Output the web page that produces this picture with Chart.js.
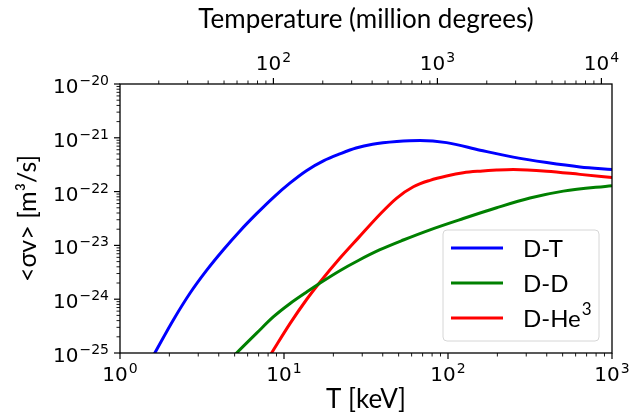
<!DOCTYPE html>
<html>
<head>
<meta charset="utf-8">
<script src="https://cdn.jsdelivr.net/npm/chart.js@4.4.0/dist/chart.umd.min.js"></script>
<style>
  html, body { margin: 0; padding: 0; background: #fff; }
  canvas { display: block; }
</style>
</head>
<body>
<canvas id="chart" width="630" height="416"></canvas>
<script>
// fusion reactivities: T in keV, <sigma v> in m^3/s
const dtTemp = [1.4, 1.63, 2.11, 2.67, 3.38, 4.27, 5.39, 6.81, 8.6, 10.9, 13.7, 17.4, 21.9, 27.5, 34.7,
                48.7, 67.5, 98, 157, 250, 400, 638, 1000];
const dtRate = [4.37e-26, 1.0e-25, 4.07e-25, 1.29e-24, 3.47e-24, 8.32e-24, 1.86e-23, 3.89e-23, 7.76e-23,
                1.45e-22, 2.45e-22, 3.72e-22, 5.01e-22, 6.46e-22, 7.59e-22, 8.51e-22, 8.91e-22, 8.13e-22,
                5.89e-22, 4.37e-22, 3.47e-22, 2.88e-22, 2.57e-22];

const ddTemp = [4.6, 5.14, 6.81, 8.6, 10.9, 13.7, 16.6, 21.9, 28.4, 38.5, 53.4, 77.7, 124, 198, 316, 505, 1000];
const ddRate = [7.08e-26, 1.0e-25, 2.34e-25, 4.68e-25, 8.32e-25, 1.35e-24, 2.0e-24, 3.39e-24, 5.25e-24,
                8.32e-24, 1.26e-23, 1.95e-23, 3.16e-23, 5.01e-23, 7.59e-23, 1.02e-22, 1.29e-22];

const dhe3Temp = [7.9, 8.4, 10.9, 13.7, 16.6, 21.9, 28.4, 38.5, 48.7, 61.5, 77.7, 98, 124, 157, 198, 250,
                  400, 638, 1000];
const dhe3Rate = [7.41e-26, 1.0e-25, 3.55e-25, 9.77e-25, 2.09e-24, 5.75e-24, 1.38e-23, 3.80e-23, 7.59e-23,
                  1.23e-22, 1.62e-22, 1.95e-22, 2.24e-22, 2.40e-22, 2.51e-22, 2.57e-22, 2.40e-22, 2.09e-22,
                  1.82e-22];

const seriesNames = ['D-T', 'D-D', 'D-He\u00b3'];

// decade labels (exponents of 10)
const xTickExps = [0, 1, 2, 3];
const topTickExps = [2, 3, 4];
const yTickExps = [-25, -24, -23, -22, -21, -20];

const keVToMK = 11.6045;   // 1 keV in million degrees

const tickFont = '20px "DejaVu Sans"';
const supFont = '14px "DejaVu Sans"';
const textFamily = 'Lato, "DejaVu Sans", sans-serif';

function logTicks(min, max) {
  const out = [];
  for (let e = Math.floor(Math.log10(min)); e <= Math.ceil(Math.log10(max)); e++) {
    for (let m = 1; m < 10; m++) {
      const v = m * Math.pow(10, e);
      if (v >= min * 0.9999 && v <= max * 1.0001) out.push({ value: v });
    }
  }
  return out;
}

function isDecade(v) {
  const l = Math.log10(v);
  return Math.abs(l - Math.round(l)) < 1e-6;
}

function drawPower(ctx, exp, x, y, align) {
  const e = exp < 0 ? '\u2212' + (-exp) : String(exp);
  ctx.font = tickFont;
  const wb = ctx.measureText('10').width;
  ctx.font = supFont;
  const we = ctx.measureText(e).width;
  const w = wb + we + 1;
  const x0 = align === 'right' ? x - w : x - w / 2;
  ctx.textAlign = 'left';
  ctx.textBaseline = 'alphabetic';
  ctx.font = tickFont;
  ctx.fillText('10', x0, y);
  ctx.font = supFont;
  ctx.fillText(e, x0 + wb + 1, y - 8);
}

// legend text, with a trailing "³" drawn as a real superscript
function drawLabel(ctx, text, x, y) {
  const sup = text.endsWith('\u00b3');
  const base = sup ? text.slice(0, -1) : text;
  ctx.font = '24px ' + textFamily;
  ctx.fillText(base, x, y);
  if (sup) {
    const w = ctx.measureText(base).width;
    ctx.font = '17px ' + textFamily;
    ctx.fillText('3', x + w + 1, y - 9);
  }
}

// matplotlib-ish frame, ticks, decade labels and legend
const mplLook = {
  id: 'mplLook',
  afterDraw(chart) {
    const ctx = chart.ctx;
    const a = chart.chartArea;
    ctx.save();
    ctx.strokeStyle = '#000';
    ctx.fillStyle = '#000';

    // ticks
    const sx = chart.scales.x, st = chart.scales.x2, sy = chart.scales.y;
    sx.ticks.forEach(t => {
      const p = sx.getPixelForValue(t.value), big = isDecade(t.value);
      ctx.lineWidth = big ? 1.2 : 0.9;
      ctx.beginPath(); ctx.moveTo(p, a.bottom); ctx.lineTo(p, a.bottom + (big ? 6 : 3.5)); ctx.stroke();
    });
    st.ticks.forEach(t => {
      const p = st.getPixelForValue(t.value), big = isDecade(t.value);
      ctx.lineWidth = big ? 1.2 : 0.9;
      ctx.beginPath(); ctx.moveTo(p, a.top); ctx.lineTo(p, a.top - (big ? 6 : 3.5)); ctx.stroke();
    });
    sy.ticks.forEach(t => {
      const p = sy.getPixelForValue(t.value), big = isDecade(t.value);
      ctx.lineWidth = big ? 1.2 : 0.9;
      ctx.beginPath(); ctx.moveTo(a.left, p); ctx.lineTo(a.left - (big ? 6 : 3.5), p); ctx.stroke();
    });

    // labels
    xTickExps.forEach(e => drawPower(ctx, e, sx.getPixelForValue(Math.pow(10, e)), a.bottom + 28, 'center'));
    topTickExps.forEach(e => drawPower(ctx, e, st.getPixelForValue(Math.pow(10, e)), a.top - 14, 'center'));
    yTickExps.forEach(e => drawPower(ctx, e, a.left - 11, sy.getPixelForValue(Math.pow(10, e)) + 9, 'right'));

    // frame
    ctx.lineWidth = 1.3;
    ctx.strokeRect(a.left, a.top, a.right - a.left, a.bottom - a.top);

    // legend, lower right
    const bx = 443, by = 230, bw = 156, bh = 111;
    ctx.beginPath();
    ctx.roundRect(bx, by, bw, bh, 4);
    ctx.fillStyle = 'rgba(255,255,255,0.8)';
    ctx.fill();
    ctx.strokeStyle = '#d6d6d6';
    ctx.lineWidth = 1;
    ctx.stroke();
    ctx.textAlign = 'left';
    ctx.textBaseline = 'middle';
    chart.data.datasets.forEach((ds, i) => {
      const ly = by + 18 + i * 35;
      ctx.strokeStyle = ds.borderColor;
      ctx.lineWidth = 3;
      ctx.beginPath(); ctx.moveTo(bx + 8, ly); ctx.lineTo(bx + 60, ly); ctx.stroke();
      ctx.fillStyle = '#000';
      drawLabel(ctx, ds.label, bx + 80, ly + 1);
    });
    ctx.restore();
  }
};

function pts(xs, ys) {
  return xs.map((x, i) => ({ x: x, y: ys[i] }));
}

function line(label, xs, ys, color) {
  return {
    label: label,
    data: pts(xs, ys),
    borderColor: color,
    backgroundColor: color,
    borderWidth: 3,
    pointRadius: 0,
    fill: false,
    cubicInterpolationMode: 'monotone'
  };
}

new Chart(document.getElementById('chart'), {
  type: 'line',
  data: {
    datasets: [
      line(seriesNames[0], dtTemp, dtRate, '#0000ff'),
      line(seriesNames[1], ddTemp, ddRate, '#008000'),
      line(seriesNames[2], dhe3Temp, dhe3Rate, '#ff0000')
    ]
  },
  options: {
    responsive: false,
    animation: false,
    devicePixelRatio: 1,
    layout: { padding: { left: 0, right: 18, top: 0, bottom: 0 } },
    plugins: { legend: { display: false }, tooltip: { enabled: false } },
    scales: {
      x: {
        type: 'logarithmic',
        position: 'bottom',
        min: 1, max: 1000,
        afterBuildTicks: s => { s.ticks = logTicks(1, 1000); },
        afterFit: s => { s.height = 63; },
        grid: { display: false },
        border: { display: false },
        ticks: { display: false },
        title: { display: true, text: 'T [keV]', color: '#000',
                 font: { family: textFamily, size: 26 }, padding: { top: 0, bottom: 1 } }
      },
      x2: {
        type: 'logarithmic',
        position: 'top',
        min: 1 * keVToMK, max: 1000 * keVToMK,
        afterBuildTicks: s => { s.ticks = logTicks(1 * keVToMK, 1000 * keVToMK); },
        afterFit: s => { s.height = 84; },
        grid: { display: false },
        border: { display: false },
        ticks: { display: false },
        title: { display: true, text: 'Temperature (million degrees)', color: '#000',
                 font: { family: textFamily, size: 26 }, padding: { top: 4, bottom: 0 } }
      },
      y: {
        type: 'logarithmic',
        position: 'left',
        min: 1e-25, max: 1e-20,
        afterBuildTicks: s => { s.ticks = logTicks(1e-25, 1e-20); },
        afterFit: s => { s.width = 120; },
        grid: { display: false },
        border: { display: false },
        ticks: { display: false },
        title: { display: true, text: '<\u03c3v> [m\u00b3/s]', color: '#000',
                 font: { family: textFamily, size: 25 }, padding: { top: 13, bottom: 0 } }
      }
    }
  },
  plugins: [mplLook]
});
</script>
</body>
</html>
